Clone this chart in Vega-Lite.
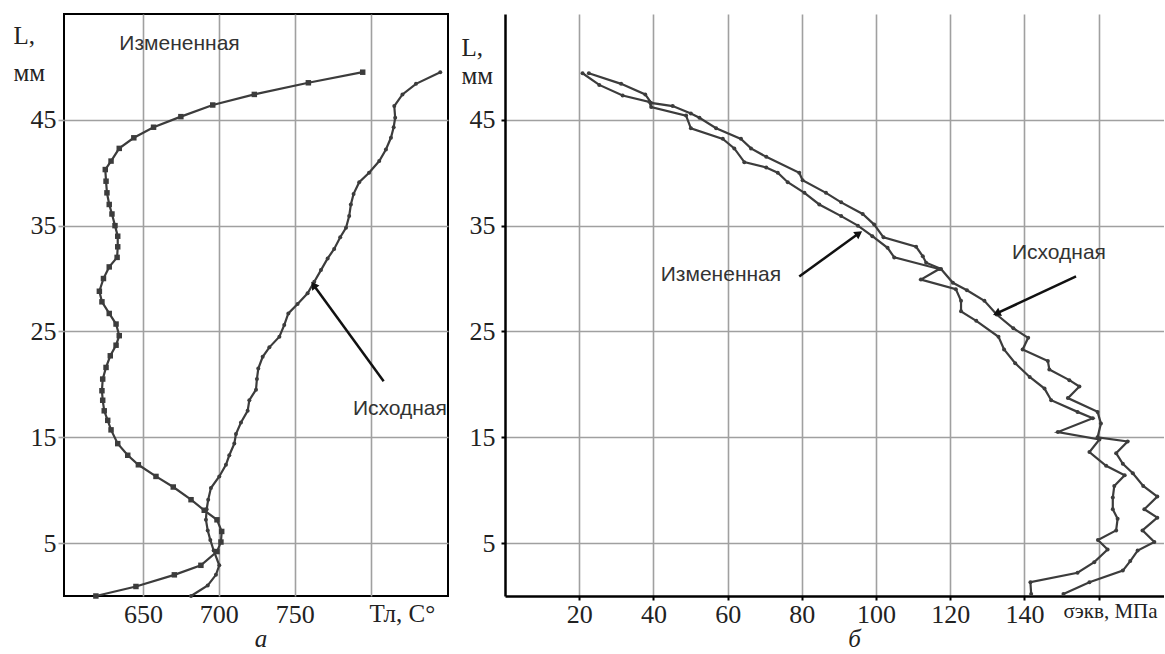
{
  "$schema": "https://vega.github.io/schema/vega-lite/v6.json",
  "background": "white",
  "padding": {"left": 12, "top": 13, "right": 0, "bottom": 0},
  "bounds": "flush",
  "spacing": 57,
  "config": {
    "view": {"stroke": "black", "strokeWidth": 2},
    "axis": {
      "labelFont": "Liberation Serif",
      "labelFontSize": 26,
      "labelColor": "#222",
      "titleFont": "Liberation Serif",
      "titleFontWeight": "normal",
      "titleColor": "#222",
      "gridColor": "#a0a0a0",
      "gridWidth": 1.6,
      "domain": false
    },
    "title": {"font": "Liberation Serif", "fontStyle": "italic", "fontWeight": "normal", "fontSize": 25, "color": "#222"}
  },
  "datasets": {
    "leftCurves": [
      {"series": "Измененная", "L": 0, "T": 619},
      {"series": "Измененная", "L": 0.9, "T": 645.4},
      {"series": "Измененная", "L": 2.0, "T": 670.7},
      {"series": "Измененная", "L": 2.9, "T": 688.2},
      {"series": "Измененная", "L": 4.2, "T": 698.8},
      {"series": "Измененная", "L": 5.1, "T": 701.4},
      {"series": "Измененная", "L": 6.1, "T": 701.9},
      {"series": "Измененная", "L": 7.2, "T": 698.8},
      {"series": "Измененная", "L": 8.1, "T": 690.4},
      {"series": "Измененная", "L": 9.1, "T": 681.7},
      {"series": "Измененная", "L": 10.3, "T": 670},
      {"series": "Измененная", "L": 11.3, "T": 658.6},
      {"series": "Измененная", "L": 12.4, "T": 647},
      {"series": "Измененная", "L": 13.3, "T": 640},
      {"series": "Измененная", "L": 14.4, "T": 633.4},
      {"series": "Измененная", "L": 15.7, "T": 629},
      {"series": "Измененная", "L": 16.6, "T": 626.8},
      {"series": "Измененная", "L": 17.5, "T": 624.5},
      {"series": "Измененная", "L": 18.5, "T": 623.5},
      {"series": "Измененная", "L": 19.4, "T": 623},
      {"series": "Измененная", "L": 20.5, "T": 623.5},
      {"series": "Измененная", "L": 21.6, "T": 625.7},
      {"series": "Измененная", "L": 22.7, "T": 628.5},
      {"series": "Измененная", "L": 23.7, "T": 632.3},
      {"series": "Измененная", "L": 24.6, "T": 634.4},
      {"series": "Измененная", "L": 25.7, "T": 632.3},
      {"series": "Измененная", "L": 26.7, "T": 627.8},
      {"series": "Измененная", "L": 27.8, "T": 623},
      {"series": "Измененная", "L": 28.8, "T": 621.3},
      {"series": "Измененная", "L": 30.0, "T": 624},
      {"series": "Измененная", "L": 31.1, "T": 627.8},
      {"series": "Измененная", "L": 32.0, "T": 633},
      {"series": "Измененная", "L": 33.0, "T": 633.4},
      {"series": "Измененная", "L": 34.0, "T": 633.4},
      {"series": "Измененная", "L": 35.0, "T": 631.6},
      {"series": "Измененная", "L": 36.1, "T": 629.6},
      {"series": "Измененная", "L": 37.0, "T": 627.8},
      {"series": "Измененная", "L": 38.1, "T": 626.3},
      {"series": "Измененная", "L": 39.2, "T": 625.7},
      {"series": "Измененная", "L": 40.3, "T": 625.2},
      {"series": "Измененная", "L": 41.1, "T": 629},
      {"series": "Измененная", "L": 42.3, "T": 634.4},
      {"series": "Измененная", "L": 43.3, "T": 644},
      {"series": "Измененная", "L": 44.3, "T": 657},
      {"series": "Измененная", "L": 45.3, "T": 675},
      {"series": "Измененная", "L": 46.4, "T": 696},
      {"series": "Измененная", "L": 47.4, "T": 723.4},
      {"series": "Измененная", "L": 48.5, "T": 759},
      {"series": "Измененная", "L": 49.5, "T": 794.8},
      {"series": "Исходная", "L": 0, "T": 681.7},
      {"series": "Исходная", "L": 1.0, "T": 692.7},
      {"series": "Исходная", "L": 2.0, "T": 698.1},
      {"series": "Исходная", "L": 2.9, "T": 700.3},
      {"series": "Исходная", "L": 4.3, "T": 696.6},
      {"series": "Исходная", "L": 5.3, "T": 694.4},
      {"series": "Исходная", "L": 6.2, "T": 692.7},
      {"series": "Исходная", "L": 7.2, "T": 691.5},
      {"series": "Исходная", "L": 8.2, "T": 692},
      {"series": "Исходная", "L": 9.1, "T": 693},
      {"series": "Исходная", "L": 10.2, "T": 694.8},
      {"series": "Исходная", "L": 11.3, "T": 700.3},
      {"series": "Исходная", "L": 12.4, "T": 704.7},
      {"series": "Исходная", "L": 13.3, "T": 706.9},
      {"series": "Исходная", "L": 14.4, "T": 710.2},
      {"series": "Исходная", "L": 15.3, "T": 711.3},
      {"series": "Исходная", "L": 16.4, "T": 714.6},
      {"series": "Исходная", "L": 17.5, "T": 719},
      {"series": "Исходная", "L": 18.5, "T": 720.1},
      {"series": "Исходная", "L": 19.5, "T": 724.5},
      {"series": "Исходная", "L": 20.5, "T": 725.1},
      {"series": "Исходная", "L": 21.5, "T": 726},
      {"series": "Исходная", "L": 22.6, "T": 728.9},
      {"series": "Исходная", "L": 23.5, "T": 733.3},
      {"series": "Исходная", "L": 24.5, "T": 739.9},
      {"series": "Исходная", "L": 25.6, "T": 743.1},
      {"series": "Исходная", "L": 26.7, "T": 745.8},
      {"series": "Исходная", "L": 27.6, "T": 751.9},
      {"series": "Исходная", "L": 28.6, "T": 758.5},
      {"series": "Исходная", "L": 29.7, "T": 762.9},
      {"series": "Исходная", "L": 30.8, "T": 767.3},
      {"series": "Исходная", "L": 31.9, "T": 771.7},
      {"series": "Исходная", "L": 32.8, "T": 776},
      {"series": "Исходная", "L": 33.9, "T": 780},
      {"series": "Исходная", "L": 34.8, "T": 783.8},
      {"series": "Исходная", "L": 35.9, "T": 785.9},
      {"series": "Исходная", "L": 37.0, "T": 787},
      {"series": "Исходная", "L": 38.0, "T": 788.8},
      {"series": "Исходная", "L": 39.1, "T": 792.5},
      {"series": "Исходная", "L": 40.0, "T": 799},
      {"series": "Исходная", "L": 41.1, "T": 805.7},
      {"series": "Исходная", "L": 42.2, "T": 810.1},
      {"series": "Исходная", "L": 43.3, "T": 813.4},
      {"series": "Исходная", "L": 44.3, "T": 815.2},
      {"series": "Исходная", "L": 45.2, "T": 816.2},
      {"series": "Исходная", "L": 46.3, "T": 815.6},
      {"series": "Исходная", "L": 47.4, "T": 821},
      {"series": "Исходная", "L": 48.4, "T": 829.9},
      {"series": "Исходная", "L": 49.5, "T": 845.9}
    ],
    "rightCurves": [
      {"series": "Исходная", "L": 0.2, "S": 150.5},
      {"series": "Исходная", "L": 1.3, "S": 157.5},
      {"series": "Исходная", "L": 2.4, "S": 166.5},
      {"series": "Исходная", "L": 3.3, "S": 168.5},
      {"series": "Исходная", "L": 4.3, "S": 170.5},
      {"series": "Исходная", "L": 5.1, "S": 175.0},
      {"series": "Исходная", "L": 6.2, "S": 171.8},
      {"series": "Исходная", "L": 7.4, "S": 175.8},
      {"series": "Исходная", "L": 8.2, "S": 172.3},
      {"series": "Исходная", "L": 9.4, "S": 175.8},
      {"series": "Исходная", "L": 10.4, "S": 172.0},
      {"series": "Исходная", "L": 11.6, "S": 169.2},
      {"series": "Исходная", "L": 12.5, "S": 166.5},
      {"series": "Исходная", "L": 13.5, "S": 164.7},
      {"series": "Исходная", "L": 14.6, "S": 167.8},
      {"series": "Исходная", "L": 15.0, "S": 159.7},
      {"series": "Исходная", "L": 16.3, "S": 160.6},
      {"series": "Исходная", "L": 17.4, "S": 159.7},
      {"series": "Исходная", "L": 18.7, "S": 151.7},
      {"series": "Исходная", "L": 19.8, "S": 154.8},
      {"series": "Исходная", "L": 20.4, "S": 152.1},
      {"series": "Исходная", "L": 21.4, "S": 146.7},
      {"series": "Исходная", "L": 22.2, "S": 146.3},
      {"series": "Исходная", "L": 23.3, "S": 139.5},
      {"series": "Исходная", "L": 24.4, "S": 141.0},
      {"series": "Исходная", "L": 25.3, "S": 137.0},
      {"series": "Исходная", "L": 26.6, "S": 132.5},
      {"series": "Исходная", "L": 27.9, "S": 129.2},
      {"series": "Исходная", "L": 28.9, "S": 124.5},
      {"series": "Исходная", "L": 29.6, "S": 120.7},
      {"series": "Исходная", "L": 30.9, "S": 117.5},
      {"series": "Исходная", "L": 31.5, "S": 113.5},
      {"series": "Исходная", "L": 32.1, "S": 112.6},
      {"series": "Исходная", "L": 33.0, "S": 110.8},
      {"series": "Исходная", "L": 33.9, "S": 102.0},
      {"series": "Исходная", "L": 35.1, "S": 99.5},
      {"series": "Исходная", "L": 36.1, "S": 96.4},
      {"series": "Исходная", "L": 37.2, "S": 90.6},
      {"series": "Исходная", "L": 38.1, "S": 86.5},
      {"series": "Исходная", "L": 39.3, "S": 80.2},
      {"series": "Исходная", "L": 40.0, "S": 79.3},
      {"series": "Исходная", "L": 41.5, "S": 70.4},
      {"series": "Исходная", "L": 42.3, "S": 66.3},
      {"series": "Исходная", "L": 43.2, "S": 63.6},
      {"series": "Исходная", "L": 44.2, "S": 56.9},
      {"series": "Исходная", "L": 45.2, "S": 52.4},
      {"series": "Исходная", "L": 45.6, "S": 50.1},
      {"series": "Исходная", "L": 46.3, "S": 45.2},
      {"series": "Исходная", "L": 46.6, "S": 39.4},
      {"series": "Исходная", "L": 47.4, "S": 37.8},
      {"series": "Исходная", "L": 48.4, "S": 31.3},
      {"series": "Исходная", "L": 49.4, "S": 22.6},
      {"series": "Измененная", "L": 0.2, "S": 141.8},
      {"series": "Измененная", "L": 1.3, "S": 141.6},
      {"series": "Измененная", "L": 2.2, "S": 154.3},
      {"series": "Измененная", "L": 3.2, "S": 158.8},
      {"series": "Измененная", "L": 4.4, "S": 162.4},
      {"series": "Измененная", "L": 5.3, "S": 159.8},
      {"series": "Измененная", "L": 6.2, "S": 164.7},
      {"series": "Измененная", "L": 7.3, "S": 165.1},
      {"series": "Измененная", "L": 8.2, "S": 163.8},
      {"series": "Измененная", "L": 9.3, "S": 163.8},
      {"series": "Измененная", "L": 10.4, "S": 164.2},
      {"series": "Измененная", "L": 11.4, "S": 167.0},
      {"series": "Измененная", "L": 12.3, "S": 162.0},
      {"series": "Измененная", "L": 13.6, "S": 157.5},
      {"series": "Измененная", "L": 14.8, "S": 160.2},
      {"series": "Измененная", "L": 15.5, "S": 149.0},
      {"series": "Измененная", "L": 16.8, "S": 158.4},
      {"series": "Измененная", "L": 17.4, "S": 154.3},
      {"series": "Измененная", "L": 18.5, "S": 147.2},
      {"series": "Измененная", "L": 19.6, "S": 145.4},
      {"series": "Измененная", "L": 20.7, "S": 141.4},
      {"series": "Измененная", "L": 22.0, "S": 137.5},
      {"series": "Измененная", "L": 23.3, "S": 134.5},
      {"series": "Измененная", "L": 24.5, "S": 133.0},
      {"series": "Измененная", "L": 26.0, "S": 127.0},
      {"series": "Измененная", "L": 26.9, "S": 122.9},
      {"series": "Измененная", "L": 27.9, "S": 122.9},
      {"series": "Измененная", "L": 29.0, "S": 121.5},
      {"series": "Измененная", "L": 29.9, "S": 112.1},
      {"series": "Измененная", "L": 30.9, "S": 117.0},
      {"series": "Измененная", "L": 32.0, "S": 104.9},
      {"series": "Измененная", "L": 32.9, "S": 103.1},
      {"series": "Измененная", "L": 34.0, "S": 99.0},
      {"series": "Измененная", "L": 35.0, "S": 95.1},
      {"series": "Измененная", "L": 35.9, "S": 90.6},
      {"series": "Измененная", "L": 37.0, "S": 84.7},
      {"series": "Измененная", "L": 38.1, "S": 80.7},
      {"series": "Измененная", "L": 39.1, "S": 76.2},
      {"series": "Измененная", "L": 40.0, "S": 73.5},
      {"series": "Измененная", "L": 40.5, "S": 70.4},
      {"series": "Измененная", "L": 41.0, "S": 64.5},
      {"series": "Измененная", "L": 42.3, "S": 61.8},
      {"series": "Измененная", "L": 43.2, "S": 58.7},
      {"series": "Измененная", "L": 44.2, "S": 50.1},
      {"series": "Измененная", "L": 45.4, "S": 48.8},
      {"series": "Измененная", "L": 46.2, "S": 39.4},
      {"series": "Измененная", "L": 46.7, "S": 38.9},
      {"series": "Измененная", "L": 47.3, "S": 31.7},
      {"series": "Измененная", "L": 48.3, "S": 25.4},
      {"series": "Измененная", "L": 49.4, "S": 20.9}
    ],
    "leftNotes": [
      {"label": "Измененная", "T": 674.1, "L": 52.2},
      {"label": "Исходная", "T": 819.3, "L": 17.7}
    ],
    "leftArrows": [
      {"name": "Исходная", "T": 762.9, "L": 29.3, "T2": 808.6, "L2": 20.3}
    ],
    "rightNotes": [
      {"label": "Измененная", "S": 58.2, "L": 30.3},
      {"label": "Исходная", "S": 149.3, "L": 32.4}
    ],
    "rightArrows": [
      {"name": "Измененная", "S": 95.1, "L": 34.2, "S2": 79.3, "L2": 30.2},
      {"name": "Исходная", "S": 132.8, "L": 26.75, "S2": 153.9, "L2": 30.2}
    ]
  },
  "hconcat": [
    {
      "width": 384,
      "height": 582,
      "title": {"text": "а", "orient": "bottom", "anchor": "middle", "dx": 5, "offset": 0},
      "encoding": {
        "x": {
          "field": "T", "type": "quantitative",
          "scale": {"domain": [598, 851], "nice": false, "zero": false},
          "axis": {
            "values": [650, 700, 750, 800],
            "labelExpr": "datum.value == 800 ? '' : datum.label",
            "ticks": false, "labelPadding": 5,
            "title": "Тл, С°", "titleFontSize": 25,
            "titleX": 305, "titleY": 25, "titleAlign": "left", "titleBaseline": "alphabetic"
          }
        },
        "y": {
          "field": "L", "type": "quantitative",
          "scale": {"domain": [0, 55], "nice": false},
          "axis": {
            "values": [5, 15, 25, 35, 45],
            "tickColor": "#a0a0a0", "tickWidth": 1.6, "tickSize": 6, "labelPadding": 2,
            "title": ["L,", "мм"], "titleAngle": 0, "titleFontSize": 25,
            "titleX": -51, "titleY": 29, "titleAlign": "left", "titleBaseline": "alphabetic", "titleLineHeight": 37
          }
        }
      },
      "layer": [
        {
          "data": {"name": "leftCurves"},
          "mark": {"type": "line", "color": "#3c3c3c", "strokeWidth": 2.2},
          "encoding": {"detail": {"field": "series"}, "order": {"field": "L", "type": "quantitative"}}
        },
        {
          "data": {"name": "leftCurves"},
          "mark": {"type": "point", "filled": true, "color": "#3c3c3c", "opacity": 1},
          "encoding": {
            "shape": {"field": "series", "type": "nominal", "scale": {"domain": ["Измененная", "Исходная"], "range": ["square", "circle"]}, "legend": null},
            "size": {"field": "series", "type": "nominal", "scale": {"domain": ["Измененная", "Исходная"], "range": [30, 16]}, "legend": null}
          }
        },
        {
          "data": {"name": "leftArrows"},
          "mark": {"type": "rule", "color": "#111", "strokeWidth": 2.5},
          "encoding": {"x2": {"field": "T2"}, "y2": {"field": "L2"}}
        },
        {
          "data": {"name": "leftArrows"},
          "mark": {"type": "point", "shape": "triangle", "angle": 324, "filled": true, "size": 80, "color": "#111", "opacity": 1}
        },
        {
          "data": {"name": "leftNotes"},
          "mark": {"type": "text", "font": "Liberation Sans", "fontSize": 21, "color": "#333", "align": "center", "baseline": "middle"},
          "encoding": {"text": {"field": "label"}}
        }
      ]
    },
    {
      "width": 659,
      "height": 582,
      "view": {"stroke": null},
      "title": {"text": "б", "orient": "bottom", "anchor": "middle", "dx": 20, "offset": 0},
      "encoding": {
        "y": {
          "field": "L", "type": "quantitative",
          "scale": {"domain": [0, 55], "nice": false},
          "axis": {
            "values": [5, 15, 25, 35, 45],
            "domain": true, "domainColor": "black", "domainWidth": 2.5,
            "tickColor": "black", "tickWidth": 2, "tickSize": 4, "labelPadding": 6,
            "title": ["L,", "мм"], "titleAngle": 0, "titleFontSize": 25,
            "titleX": -44, "titleY": 41, "titleAlign": "left", "titleBaseline": "alphabetic", "titleLineHeight": 28
          }
        }
      },
      "layer": [
        {
          "data": {"name": "rightCurves"},
          "mark": {"type": "line", "color": "#3c3c3c", "strokeWidth": 2.2},
          "encoding": {
            "x": {
              "field": "S", "type": "quantitative",
              "scale": {"domain": [0, 177.6], "nice": false, "zero": false},
              "axis": {
                "values": [20, 40, 60, 80, 100, 120, 140, 160],
                "labelExpr": "datum.value == 160 ? '' : datum.label",
                "domain": true, "domainColor": "black", "domainWidth": 2.5,
                "tickColor": "black", "tickWidth": 2, "tickSize": 4, "labelPadding": 1,
                "title": "σэкв, МПа", "titleFontSize": 21,
                "titleX": 558, "titleY": 21, "titleAlign": "left", "titleBaseline": "alphabetic"
              }
            },
            "detail": {"field": "series"},
            "order": {"field": "L", "type": "quantitative"}
          }
        },
        {
          "data": {"name": "rightCurves"},
          "mark": {"type": "point", "filled": true, "color": "#3c3c3c", "opacity": 1, "size": 16},
          "encoding": {"x": {"field": "S", "type": "quantitative"}}
        },
        {
          "data": {"name": "rightArrows"},
          "mark": {"type": "rule", "color": "#111", "strokeWidth": 2.5},
          "encoding": {"x": {"field": "S", "type": "quantitative"}, "x2": {"field": "S2"}, "y2": {"field": "L2"}}
        },
        {
          "data": {"name": "rightArrows"},
          "transform": [{"filter": "datum.name == 'Измененная'"}],
          "mark": {"type": "point", "shape": "triangle", "angle": 55, "filled": true, "size": 80, "color": "#111", "opacity": 1},
          "encoding": {"x": {"field": "S", "type": "quantitative"}}
        },
        {
          "data": {"name": "rightArrows"},
          "transform": [{"filter": "datum.name == 'Исходная'"}],
          "mark": {"type": "point", "shape": "triangle", "angle": 245, "filled": true, "size": 80, "color": "#111", "opacity": 1},
          "encoding": {"x": {"field": "S", "type": "quantitative"}}
        },
        {
          "data": {"name": "rightNotes"},
          "mark": {"type": "text", "font": "Liberation Sans", "fontSize": 21, "color": "#333", "align": "center", "baseline": "middle"},
          "encoding": {"x": {"field": "S", "type": "quantitative"}, "text": {"field": "label"}}
        },
        {
          "data": {"values": [{}]},
          "mark": {"type": "rule", "color": "black", "strokeWidth": 2.5},
          "encoding": {"y": {"datum": 55}}
        }
      ]
    }
  ]
}
